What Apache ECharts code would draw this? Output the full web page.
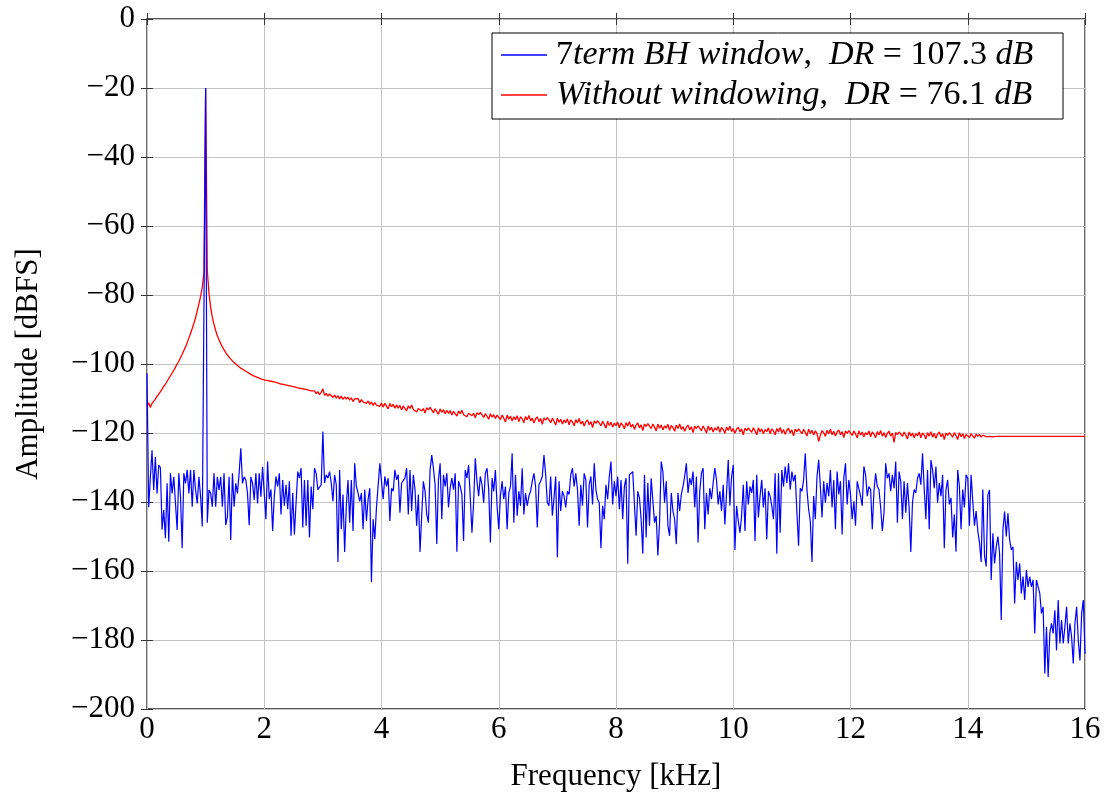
<!DOCTYPE html>
<html><head><meta charset="utf-8">
<script src="https://cdn.jsdelivr.net/npm/echarts@6/dist/echarts.min.js"></script>
<style>html,body{margin:0;padding:0;background:#fff}#c{width:1110px;height:795px}</style>
</head><body><div id="c"></div>
<script>
const FREQ_STEP_KHZ = 1 / 35;
const X_TICKS = [0, 2, 4, 6, 8, 10, 12, 14, 16];
const Y_TICKS = [-200, -180, -160, -140, -120, -100, -80, -60, -40, -20, 0];
const SERIES_NAMES = ['7term BH window,  DR = 107.3 dB', 'Without windowing,  DR = 76.1 dB'];
const LEGEND_RICH = [
  '{n|7}{i|term BH window}{n|,  }{i|DR}{n| = 107.3 }{i|dB}',
  '{i|Without windowing}{n|,  }{i|DR}{n| = 76.1 }{i|dB}'
];
const X_NAME = 'Frequency [kHz]';
const Y_NAME = 'Amplitude [dBFS]';

const BLUE_DB = [
-102.7,-141.5,-133,-125,-136.5,-127,-137.5,-129.3,-130,-148,
-142.3,-150.5,-134.6,-151.5,-131.7,-137.5,-132.7,-140.4,-148.1,-131.7,
-138.5,-153.4,-131.7,-134.6,-130.7,-137.5,-130.7,-141.4,-130.7,-136.5,
-140.4,-132.7,-138.5,-147.1,-147,-20,-146,-136.5,-137.5,-141.4,
-131.7,-141.4,-132.7,-136.5,-132.7,-141.4,-131.7,-146.7,-144.3,-132.7,
-151,-131.7,-141.4,-134.6,-137.5,-131.7,-124.4,-134.6,-132.7,-133.6,
-137.5,-146.7,-132.7,-134.6,-139.4,-131.7,-140.4,-131.7,-138.5,-129.8,
-130,-145,-128.3,-139.2,-136.4,-148.4,-138.3,-132.6,-135.5,-131.7,
-143.6,-133.6,-141.1,-135,-142.1,-134,-149.8,-137.4,-149.4,-140.2,
-131.2,-133.1,-130.2,-147.4,-133.6,-146.9,-133.6,-150.3,-135.5,-142.1,
-130.2,-131.7,-136.4,-136,-135,-119.6,-134.5,-132.1,-133.1,-131.2,
-134.5,-139.8,-132.1,-135,-157.4,-130.7,-147.9,-137.8,-154.5,-141.1,
-133.6,-146,-133.6,-148.4,-128.8,-135.5,-137.4,-139.8,-137.4,-147.9,
-136.4,-145.5,-139.2,-136,-163.2,-145,-150.8,-141.6,-142.1,-128.8,
-128.3,-139.2,-132.6,-135.5,-133.1,-145.5,-136,-136.9,-130.7,-133.6,
-132.1,-143.1,-134.5,-134,-133.1,-130.2,-143.6,-130.7,-142.6,-132.1,
-136.4,-146.9,-137.8,-154.5,-144,-134,-136.9,-143.6,-146,-130.7,
-126.4,-130.2,-135,-152.2,-133.6,-128.8,-145,-132.1,-135.5,-131.7,
-141.6,-136,-133.1,-136.4,-131.7,-154.4,-134,-135.5,-137.8,-151.3,
-130.7,-133.1,-129.2,-138.8,-148.9,-140.2,-127.3,-134,-138.3,-132.6,
-135,-140.2,-131.7,-130.2,-136.4,-151.7,-133.1,-136.9,-130.7,-141.1,
-147.9,-138.3,-134,-139.2,-135.5,-147.9,-137.4,-135.5,-125.9,-146,
-132.1,-144,-136.9,-141.1,-130.2,-143.6,-137.4,-141.1,-138.3,-136.9,
-134,-131.7,-135.5,-147.4,-135,-134,-132.6,-126.4,-132.1,-140.2,
-141.1,-132.6,-144,-138.8,-132.6,-156,-134,-142.6,-136.9,-138.3,
-141.6,-136.9,-137.8,-132.1,-130.2,-135.5,-131.7,-136.4,-146.9,-135,
-141.1,-131.7,-133.6,-147.4,-135,-132.6,-140.7,-128.8,-136.4,-139.2,
-140.2,-153.4,-141.1,-145,-135,-139.2,-132.6,-128.3,-140.7,-134,
-138.3,-132.6,-142.1,-133.6,-145,-135.5,-133.1,-157.9,-132.1,-131.7,
-131.2,-131.7,-149.8,-136.9,-138.8,-145,-155,-132.1,-150.3,-134.5,
-146.9,-133.1,-133.6,-146,-144,-155.5,-146,-128.3,-131.2,-140.2,
-134,-146.9,-149.8,-137.4,-142.6,-145,-152.2,-137.4,-142.6,-137.8,
-135.5,-132.6,-128.8,-137.4,-133.1,-135,-131.2,-141.6,-132.6,-151.7,
-136.9,-131.7,-130.2,-147.9,-137.4,-143.6,-136,-139.2,-134.5,-130.2,
-133.6,-140.7,-136.9,-142.6,-135,-146.5,-137.4,-127.8,-141.1,-132.6,
-129.2,-153.9,-141.1,-145.5,-148.9,-144,-135,-148.4,-134,-140.7,
-135.5,-137.4,-133.6,-151.3,-132.1,-144.5,-138.3,-133.6,-141.6,-136,
-150.8,-136.9,-138.3,-141.1,-145,-131.7,-155,-131.7,-148.9,-130.7,
-135.5,-129.7,-134.5,-128.8,-136.4,-131.2,-134,-132.1,-143.1,-152.7,
-136,-136.9,-133.6,-125.9,-136.4,-142.1,-145.5,-157.4,-138.3,-145,
-132.6,-127.8,-135.5,-144.5,-134,-140.2,-134.5,-138.3,-130.7,-141.6,
-133.6,-147.9,-131.2,-137.8,-134,-149.4,-133.1,-128.8,-140.7,-133.6,
-137.8,-145,-139.8,-146.9,-134,-133.6,-138.3,-141.1,-129.7,-132.1,
-138.3,-135.5,-136.4,-147.9,-136.9,-131.7,-135.5,-136.4,-141.6,-148.4,
-143.1,-128.8,-133.1,-131.7,-136.9,-132.1,-136,-128.3,-146,-131.2,
-134,-145,-134,-143.1,-134.5,-141.6,-154.5,-140.2,-136.4,-137.4,
-133.1,-131.7,-135,-125.9,-136,-145,-130.7,-147.9,-127.8,-130.7,
-136,-129.7,-140.2,-134.5,-138.3,-132.1,-153.4,-136.4,-133.6,-140.7,
-138.8,-150.3,-143.6,-154.4,-130.7,-135.5,-147.9,-136.4,-141.6,-132.1,
-133.1,-146.9,-132.1,-139.8,-146.9,-142.6,-148.4,-151.7,-157.4,-136.4,
-155.5,-158.7,-138,-136.5,-162.6,-149.1,-157.8,-153,-150,-154.8,
-174.2,-148.1,-142.8,-150,-143.3,-151,-153.9,-153,-169.4,-157.3,
-162.6,-157.8,-166.5,-161.6,-168.4,-159.7,-164.6,-161.6,-164.6,-162.6,
-178.1,-162.6,-163.1,-166.5,-172.3,-170.4,-189.7,-176.2,-190.7,-178.1,
-175.2,-178.1,-171.4,-183,-168.4,-181,-174.2,-181,-176.2,-170.4,
-181,-175.2,-179.1,-186.8,-175.2,-170.4,-180.1,-185.9,-172.3,-168.4,
-184
];

const RED_DB = [
-112.3,-111.2,-112.6,-111.4,-110.9,-110.2,-109.4,-108.7,-108.0,-107.3,
-106.5,-105.8,-105.0,-104.2,-103.4,-102.6,-101.8,-100.9,-100.0,-99.2,
-98.2,-97.2,-96.1,-95.1,-93.8,-92.5,-91.1,-89.7,-88.2,-86.6,
-84.6,-82.6,-80.4,-77.8,-73.5,-20,-73.0,-79.5,-83.5,-86.5,
-88.5,-90.3,-91.8,-93.0,-94.1,-95.0,-95.9,-96.7,-97.4,-98.0,
-98.6,-99.1,-99.6,-100.0,-100.4,-100.8,-101.2,-101.5,-101.8,-102.1,
-102.4,-102.7,-103.0,-103.2,-103.5,-103.7,-103.9,-104.1,-104.3,-104.5,
-104.6,-104.9,-104.8,-105.1,-105.0,-105.3,-105.2,-105.6,-105.5,-105.8,
-105.8,-106.1,-106.0,-106.3,-106.2,-106.5,-106.4,-106.8,-106.6,-107.0,
-106.9,-107.3,-107.1,-107.5,-107.3,-107.7,-107.5,-107.9,-107.8,-108.1,
-107.8,-108.6,-108.0,-108.9,-108.2,-107.2,-109.1,-108.5,-109.3,-108.7,
-108.8,-109.7,-109.0,-109.9,-109.2,-110.1,-109.3,-110.3,-109.5,-110.2,
-109.6,-110.5,-109.8,-110.9,-110.1,-110.6,-110.0,-111.2,-110.3,-111.0,
-110.5,-111.4,-110.7,-111.7,-111.0,-112.0,-111.2,-111.9,-111.4,-112.3,
-111.3,-112.5,-111.4,-112.2,-113.0,-111.4,-112.4,-111.7,-112.8,-111.8,
-112.8,-112.0,-113.3,-112.2,-112.7,-113.6,-112.1,-112.9,-111.9,-113.2,
-112.8,-113.9,-112.9,-112.5,-113.6,-112.9,-114.2,-112.7,-113.3,-112.6,
-112.9,-114.1,-113.0,-113.8,-114.6,-113.0,-114.0,-113.3,-114.4,-113.4,
-114.3,-113.5,-114.8,-113.7,-114.2,-115.1,-113.6,-114.4,-113.4,-114.7,
-114.2,-115.3,-114.3,-113.9,-115.0,-114.3,-115.6,-114.1,-114.7,-114.0,
-114.3,-115.5,-114.4,-115.2,-116.0,-114.4,-115.4,-114.7,-115.8,-114.8,
-114.6,-116.1,-114.8,-115.7,-116.8,-114.8,-116.0,-115.1,-116.5,-115.3,
-116.1,-115.0,-116.7,-115.3,-115.9,-117.0,-115.2,-116.2,-114.9,-116.5,
-115.7,-117.1,-115.9,-115.3,-116.7,-115.8,-117.5,-115.6,-116.3,-115.5,
-115.5,-117.0,-115.7,-116.6,-117.7,-115.7,-116.9,-116.0,-117.4,-116.2,
-117.0,-115.9,-117.6,-116.2,-116.8,-117.9,-116.1,-117.1,-115.8,-117.4,
-116.6,-118.0,-116.8,-116.2,-117.6,-116.7,-118.4,-116.5,-117.2,-116.4,
-116.4,-117.9,-116.6,-117.5,-118.6,-116.6,-117.8,-116.9,-118.3,-117.1,
-117.9,-116.8,-118.5,-117.1,-117.7,-118.8,-117.0,-118.0,-116.7,-118.3,
-117.5,-118.9,-117.7,-117.1,-118.5,-117.6,-119.3,-117.4,-118.1,-117.3,
-117.2,-118.7,-117.4,-118.3,-119.4,-117.4,-118.6,-117.7,-119.1,-117.9,
-118.6,-117.5,-119.2,-117.8,-118.4,-119.5,-117.7,-118.7,-117.4,-119.0,
-118.1,-119.5,-118.3,-117.7,-119.1,-118.2,-119.9,-118.0,-118.7,-117.9,
-117.8,-119.3,-118.0,-118.9,-120.0,-118.0,-119.2,-118.3,-119.7,-118.5,
-119.2,-118.1,-119.8,-118.4,-119.0,-120.1,-118.3,-119.3,-118.0,-119.6,
-118.7,-120.1,-118.9,-118.3,-119.7,-118.8,-120.5,-118.6,-119.3,-118.5,
-118.3,-119.8,-118.5,-119.4,-120.5,-118.5,-119.7,-118.8,-120.2,-119.0,
-119.6,-118.5,-120.2,-118.8,-119.4,-120.5,-118.7,-119.7,-118.4,-120.0,
-119.0,-120.4,-119.2,-118.6,-120.0,-119.1,-120.8,-118.9,-119.6,-118.8,
-118.7,-120.2,-118.9,-119.8,-120.9,-118.9,-120.1,-119.2,-120.6,-119.4,
-120.1,-122.4,-120.7,-119.3,-119.9,-121.0,-119.2,-120.2,-118.9,-120.5,
-119.5,-120.9,-119.7,-119.1,-120.5,-119.6,-121.3,-119.4,-120.1,-119.3,
-119.2,-120.7,-119.4,-120.3,-121.4,-119.4,-120.6,-119.7,-121.1,-119.9,
-120.5,-119.4,-121.1,-119.7,-120.3,-121.4,-119.6,-120.6,-119.3,-120.9,
-119.9,-121.3,-120.1,-119.5,-120.9,-120.0,-122.7,-119.8,-120.5,-119.7,
-119.5,-121.0,-119.7,-120.6,-121.7,-119.7,-120.9,-120.0,-121.4,-120.2,
-120.8,-119.7,-121.4,-120.0,-120.6,-121.7,-119.9,-120.9,-119.6,-121.2,
-120.1,-121.5,-120.3,-119.7,-121.1,-120.2,-121.9,-120.0,-120.7,-119.9,
-119.7,-121.2,-119.9,-120.8,-121.9,-119.9,-121.1,-120.2,-121.6,-120.4,
-120.0,-121.3,-120.2,-120.9,-121.5,-120.3,-121.0,-120.4,-121.2,-120.6,
-120.6,-121.1,-120.7,-121.0,-120.8,-121.1,-120.9,-121.0,-120.9,-121.0,
-120.9,-121.0,-120.9,-121.0,-121.0,-121.0,-121.0,-121.0,-121.0,-121.0,
-121.0,-121.0,-121.0,-121.0,-121.0,-121.0,-121.0,-121.0,-121.0,-121.0,
-121.0,-121.0,-121.0,-121.0,-121.0,-121.0,-121.0,-121.0,-121.0,-121.0,
-121.0,-121.0,-121.0,-121.0,-121.0,-121.0,-121.0,-121.0,-121.0,-121.0,
-121.0,-121.0,-121.0,-121.0,-121.0,-121.0,-121.0,-121.0,-121.0,-121.0,
-121.0
];

const FONT = 'Liberation Serif';
const FS = 31;
const LEGEND_FS = 34;
const toPairs = arr => arr.map((v, i) => [i * FREQ_STEP_KHZ, v]);
const minusFmt = v => String(v).replace('-', '\u2212');

const chart = echarts.init(document.getElementById('c'), null, {renderer: 'canvas'});
const tickStyle = {inside: true, length: 6, lineStyle: {color: '#333', width: 1}};
const labelStyle = {fontFamily: FONT, fontSize: FS, color: '#000'};

chart.setOption({
  animation: false,
  backgroundColor: '#fff',
  grid: {left: 147, right: 25, top: 19, bottom: 86, containLabel: false, outerBoundsMode: 'none',
         show: true, borderColor: '#222', borderWidth: 1.3, backgroundColor: 'transparent'},
  xAxis: [{
    type: 'value', min: X_TICKS[0], max: X_TICKS[X_TICKS.length - 1], interval: X_TICKS[1] - X_TICKS[0],
    position: 'bottom',
    axisLine: {show: false}, axisTick: tickStyle,
    axisLabel: Object.assign({margin: 5}, labelStyle),
    splitLine: {show: true, lineStyle: {color: '#c4c4c4', width: 1}},
    name: X_NAME, nameLocation: 'middle', nameGap: 52,
    nameTextStyle: labelStyle
  }, {
    type: 'value', min: X_TICKS[0], max: X_TICKS[X_TICKS.length - 1], interval: X_TICKS[1] - X_TICKS[0],
    position: 'top', axisLine: {show: false}, axisTick: tickStyle, axisLabel: {show: false}, splitLine: {show: false}
  }],
  yAxis: [{
    type: 'value', min: Y_TICKS[0], max: Y_TICKS[Y_TICKS.length - 1], interval: Y_TICKS[1] - Y_TICKS[0],
    position: 'left',
    axisLine: {show: false}, axisTick: tickStyle,
    axisLabel: Object.assign({margin: 12, formatter: minusFmt}, labelStyle),
    splitLine: {show: true, lineStyle: {color: '#c4c4c4', width: 1}},
    name: Y_NAME, nameLocation: 'middle', nameGap: 103, nameRotate: 90,
    nameTextStyle: labelStyle
  }, {
    type: 'value', min: Y_TICKS[0], max: Y_TICKS[Y_TICKS.length - 1], interval: Y_TICKS[1] - Y_TICKS[0],
    position: 'right', axisLine: {show: false}, axisTick: tickStyle, axisLabel: {show: false}, splitLine: {show: false}
  }],
  legend: {
    data: SERIES_NAMES, orient: 'vertical', left: 501, top: 38, padding: 0,
    itemWidth: 46, itemHeight: 1.5, icon: 'rect', itemGap: 6, z: 100,
    formatter: name => LEGEND_RICH[SERIES_NAMES.indexOf(name)],
    textStyle: {
      fontFamily: FONT, fontSize: LEGEND_FS, color: '#000', padding: [0, 0, 0, 4],
      rich: {
        n: {fontFamily: FONT, fontSize: LEGEND_FS, color: '#000'},
        i: {fontFamily: FONT, fontSize: LEGEND_FS, color: '#000', fontStyle: 'italic'}
      }
    }
  },
  graphic: [{
    type: 'rect', z: 90, silent: true,
    shape: {x: 492, y: 33, width: 571, height: 86},
    style: {fill: '#fff', stroke: '#000', lineWidth: 1}
  }],
  series: [{
    name: SERIES_NAMES[0], type: 'line', data: toPairs(BLUE_DB),
    symbol: 'none', showSymbol: false, z: 3,
    lineStyle: {color: '#0000ff', width: 1.2}, itemStyle: {color: '#0000ff'}
  }, {
    name: SERIES_NAMES[1], type: 'line', data: toPairs(RED_DB),
    symbol: 'none', showSymbol: false, z: 2,
    lineStyle: {color: '#ff0000', width: 1.3}, itemStyle: {color: '#ff0000'}
  }]
});
</script>
</body></html>
